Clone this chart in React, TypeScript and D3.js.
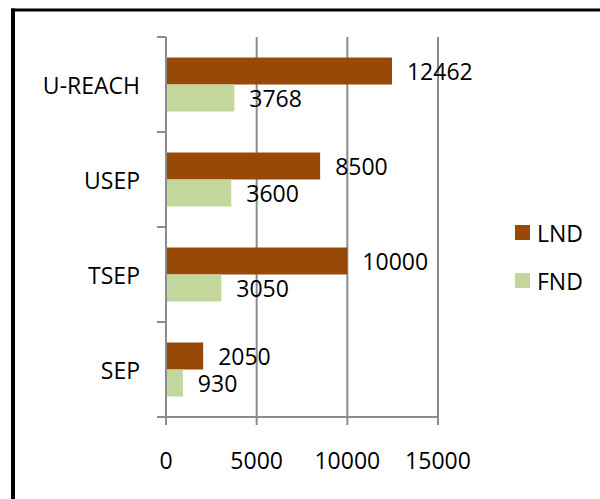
import React from "react";
import * as d3 from "d3";

const categories = ["U-REACH", "USEP", "TSEP", "SEP"];
const seriesNames = ["LND", "FND"];
const lndValues = [12462, 8500, 10000, 2050];
const fndValues = [3768, 3600, 3050, 930];
const xTicks = [0, 5000, 10000, 15000];
const colors = ["#984807", "#C3D69B"];

export default function App() {
  const W = 600, H = 499;
  const left = 166, right = 438, top = 37, bottom = 417;
  const x = d3.scaleLinear().domain([0, 15000]).range([left, right]);
  const y = d3.scaleBand().domain(categories).range([top, bottom]).paddingInner(0).paddingOuter(0);
  const inner = d3.scaleBand().domain(seriesNames).range([0, y.bandwidth()]).paddingInner(0).paddingOuter(0.76);
  const font = "'Open Sans', sans-serif";
  const fs = 23;
  const axisColor = "#8c8c8c";
  const series = [lndValues, fndValues];
  const bounds = categories.map((_, i) => top + i * y.bandwidth()).concat([bottom]);
  return (
    <svg width={W} height={H} style={{ position: "absolute", left: 0, top: 0, background: "#fff" }} fontFamily={font}>
      <rect x={0} y={0} width={W} height={H} fill="#fff" />
      <line x1={13} y1={8.5} x2={13} y2={H} stroke="#000" strokeWidth={4} />
      <line x1={11} y1={10} x2={W} y2={10} stroke="#000" strokeWidth={3} />
      {xTicks.slice(1).map((t) => (
        <line key={t} x1={x(t)} x2={x(t)} y1={top} y2={bottom + 8} stroke={axisColor} strokeWidth={2} />
      ))}
      {series.map((vals, si) =>
        categories.map((c, ci) => (
          <rect key={si + "-" + c} x={x(0)} y={(y(c) as number) + (inner(seriesNames[si]) as number)}
            width={x(vals[ci]) - x(0)} height={inner.bandwidth()} fill={colors[si]} />
        ))
      )}
      <line x1={left} x2={left} y1={top} y2={bottom} stroke={axisColor} strokeWidth={2} />
      {bounds.map((b, i) => (
        <line key={i} x1={left - 9} x2={left} y1={b} y2={b} stroke={axisColor} strokeWidth={2} />
      ))}
      <line x1={left - 9} x2={right} y1={bottom} y2={bottom} stroke={axisColor} strokeWidth={2} />
      <line x1={left} x2={left} y1={bottom} y2={bottom + 8} stroke={axisColor} strokeWidth={2} />
      {series.map((vals, si) =>
        categories.map((c, ci) => (
          <text key={"l" + si + c} x={x(vals[ci]) + 15}
            y={(y(c) as number) + (inner(seriesNames[si]) as number) + inner.bandwidth() / 2}
            dominantBaseline="central" fontSize={fs} fill="#000">{vals[ci]}</text>
        ))
      )}
      {categories.map((c) => (
        <text key={c} x={140} y={(y(c) as number) + y.bandwidth() / 2} textAnchor="end"
          dominantBaseline="central" fontSize={fs} fill="#000">{c}</text>
      ))}
      {xTicks.map((t) => (
        <text key={t} x={x(t)} y={460} textAnchor="middle" dominantBaseline="central" fontSize={fs} fill="#000">{t}</text>
      ))}
      {seriesNames.map((s, i) => (
        <g key={s} transform={`translate(515, ${225 + i * 48})`}>
          <rect x={0} y={0} width={15} height={15} fill={colors[i]} />
          <text x={22} y={8} dominantBaseline="central" fontSize={fs} fill="#000">{s}</text>
        </g>
      ))}
    </svg>
  );
}
